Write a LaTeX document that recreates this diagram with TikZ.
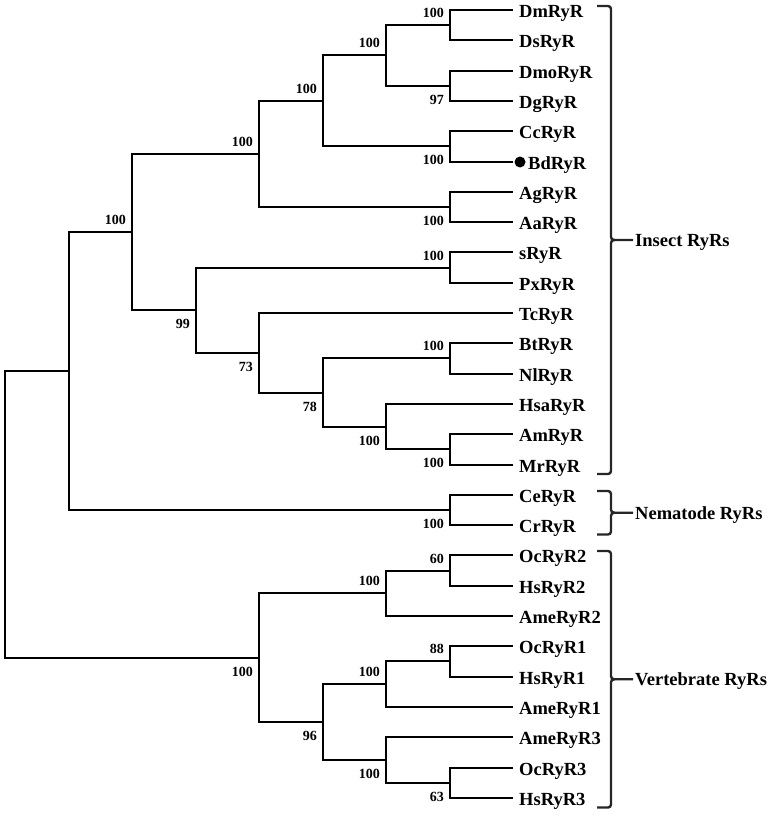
\documentclass[tikz,border=0pt]{standalone}
\usepackage{fontspec}
\setmainfont{Liberation Serif}
\usetikzlibrary{calc}
\newcommand\Y[1]{round(10+30.3*(#1))}
\begin{document}
\begin{tikzpicture}[x=1pt,y=-1pt,
  tree/.style={line width=2pt, black},
  brk/.style={line width=2.4pt, black!85, rounded corners=3pt},
  leaf/.style={anchor=west, inner xsep=6pt, inner ysep=0pt, text height=15pt, text depth=0pt,
    font=\bfseries\fontsize{18.5}{18.5}\selectfont},
  grp/.style={anchor=west, inner xsep=2pt, inner ysep=0pt, text height=13pt, text depth=0pt,
    font=\bfseries\fontsize{18.5}{18.5}\selectfont},
  boot/.style={anchor=east, inner sep=0pt, font=\bfseries\fontsize{14}{14}\selectfont},
  dotnode/.style={circle, fill=black, inner sep=0pt, minimum size=11pt}]
\useasboundingbox (0,0) rectangle (772,816);

% ---- leaves
\node[leaf] (Dm)   at (513,{\Y{0}})  {DmRyR};
\node[leaf] (Ds)   at (513,{\Y{1}})  {DsRyR};
\node[leaf] (Dmo)  at (513,{\Y{2}})  {DmoRyR};
\node[leaf] (Dg)   at (513,{\Y{3}})  {DgRyR};
\node[leaf] (Cc)   at (513,{\Y{4}})  {CcRyR};
\node[leaf] (Bd)   at (513,{\Y{5}})  {\hspace{9pt}BdRyR};
\node[dotnode] (bddot) at (520,{\Y{5}}) {};
\node[leaf] (Ag)   at (513,{\Y{6}})  {AgRyR};
\node[leaf] (Aa)   at (513,{\Y{7}})  {AaRyR};
\node[leaf] (sR)   at (513,{\Y{8}})  {sRyR};
\node[leaf] (Px)   at (513,{\Y{9}})  {PxRyR};
\node[leaf] (Tc)   at (513,{\Y{10}}) {TcRyR};
\node[leaf] (Bt)   at (513,{\Y{11}}) {BtRyR};
\node[leaf] (Nl)   at (513,{\Y{12}}) {NlRyR};
\node[leaf] (Hsa)  at (513,{\Y{13}}) {HsaRyR};
\node[leaf] (Am)   at (513,{\Y{14}}) {AmRyR};
\node[leaf] (Mr)   at (513,{\Y{15}}) {MrRyR};
\node[leaf] (Ce)   at (513,{\Y{16}}) {CeRyR};
\node[leaf] (Cr)   at (513,{\Y{17}}) {CrRyR};
\node[leaf] (Oc2)  at (513,{\Y{18}}) {OcRyR2};
\node[leaf] (Hs2)  at (513,{\Y{19}}) {HsRyR2};
\node[leaf] (Ame2) at (513,{\Y{20}}) {AmeRyR2};
\node[leaf] (Oc1)  at (513,{\Y{21}}) {OcRyR1};
\node[leaf] (Hs1)  at (513,{\Y{22}}) {HsRyR1};
\node[leaf] (Ame1) at (513,{\Y{23}}) {AmeRyR1};
\node[leaf] (Ame3) at (513,{\Y{24}}) {AmeRyR3};
\node[leaf] (Oc3)  at (513,{\Y{25}}) {OcRyR3};
\node[leaf] (Hs3)  at (513,{\Y{26}}) {HsRyR3};

% ---- internal nodes
\coordinate (n1)  at (450,{\Y{0.5}});
\coordinate (n2)  at (450,{\Y{2.5}});
\coordinate (n3)  at (386,{\Y{1.5}});
\coordinate (n4)  at (450,{\Y{4.5}});
\coordinate (n5)  at (323,{\Y{3}});
\coordinate (n6)  at (450,{\Y{6.5}});
\coordinate (n7)  at (259,{\Y{4.75}});
\coordinate (n8)  at (450,{\Y{8.5}});
\coordinate (n9)  at (450,{\Y{11.5}});
\coordinate (n10) at (450,{\Y{14.5}});
\coordinate (n11) at (386,{\Y{13.75}});
\coordinate (n12) at (323,{\Y{12.625}});
\coordinate (n13) at (259,{\Y{11.3125}});
\coordinate (n14) at (196,{\Y{9.90625}});
\coordinate (n15) at (132,{\Y{7.328125}});
\coordinate (n16) at (450,{\Y{16.5}});
\coordinate (n17) at (69,{\Y{11.9140625}});
\coordinate (n18) at (450,{\Y{18.5}});
\coordinate (n19) at (386,{\Y{19.25}});
\coordinate (n20) at (450,{\Y{21.5}});
\coordinate (n21) at (386,{\Y{22.25}});
\coordinate (n22) at (450,{\Y{25.5}});
\coordinate (n23) at (386,{\Y{24.75}});
\coordinate (n24) at (323,{\Y{23.5}});
\coordinate (n25) at (259,{\Y{21.375}});
\coordinate (root) at (5,{\Y{16.64453125}});

% ---- branches
\draw[tree] (n1) |- (Dm.west);  \draw[tree] (n1) |- (Ds.west);
\draw[tree] (n2) |- (Dmo.west); \draw[tree] (n2) |- (Dg.west);
\draw[tree] (n3) |- (n1);       \draw[tree] (n3) |- (n2);
\draw[tree] (n4) |- (Cc.west);  \draw[tree] (n4) |- (Bd.west);
\draw[tree] (n5) |- (n3);       \draw[tree] (n5) |- (n4);
\draw[tree] (n6) |- (Ag.west);  \draw[tree] (n6) |- (Aa.west);
\draw[tree] (n7) |- (n5);       \draw[tree] (n7) |- (n6);
\draw[tree] (n8) |- (sR.west);  \draw[tree] (n8) |- (Px.west);
\draw[tree] (n9) |- (Bt.west);  \draw[tree] (n9) |- (Nl.west);
\draw[tree] (n10) |- (Am.west); \draw[tree] (n10) |- (Mr.west);
\draw[tree] (n11) |- (Hsa.west); \draw[tree] (n11) |- (n10);
\draw[tree] (n12) |- (n9);      \draw[tree] (n12) |- (n11);
\draw[tree] (n13) |- (Tc.west); \draw[tree] (n13) |- (n12);
\draw[tree] (n14) |- (n8);      \draw[tree] (n14) |- (n13);
\draw[tree] (n15) |- (n7);      \draw[tree] (n15) |- (n14);
\draw[tree] (n16) |- (Ce.west); \draw[tree] (n16) |- (Cr.west);
\draw[tree] (n17) |- (n15);     \draw[tree] (n17) |- (n16);
\draw[tree] (n18) |- (Oc2.west); \draw[tree] (n18) |- (Hs2.west);
\draw[tree] (n19) |- (n18);     \draw[tree] (n19) |- (Ame2.west);
\draw[tree] (n20) |- (Oc1.west); \draw[tree] (n20) |- (Hs1.west);
\draw[tree] (n21) |- (n20);     \draw[tree] (n21) |- (Ame1.west);
\draw[tree] (n22) |- (Oc3.west); \draw[tree] (n22) |- (Hs3.west);
\draw[tree] (n23) |- (Ame3.west); \draw[tree] (n23) |- (n22);
\draw[tree] (n24) |- (n21);     \draw[tree] (n24) |- (n23);
\draw[tree] (n25) |- (n19);     \draw[tree] (n25) |- (n24);
\draw[tree] (root) |- (n17);    \draw[tree] (root) |- (n25);

% ---- bootstrap values
\node[boot] (b1)  at ($(n1)+(-6,-12.5)$)  {100};
\node[boot] (b2)  at ($(n2)+(-6,13.5)$)   {97};
\node[boot] (b3)  at ($(n3)+(-6,-12.5)$)  {100};
\node[boot] (b4)  at ($(n4)+(-6,13.5)$)   {100};
\node[boot] (b5)  at ($(n5)+(-6,-12.5)$)  {100};
\node[boot] (b6)  at ($(n6)+(-6,13.5)$)   {100};
\node[boot] (b7)  at ($(n7)+(-6,-12.5)$)  {100};
\node[boot] (b8)  at ($(n8)+(-6,-12.5)$)  {100};
\node[boot] (b9)  at ($(n9)+(-6,-12.5)$)  {100};
\node[boot] (b10) at ($(n10)+(-6,13.5)$)  {100};
\node[boot] (b11) at ($(n11)+(-6,13.5)$)  {100};
\node[boot] (b12) at ($(n12)+(-6,13.5)$)  {78};
\node[boot] (b13) at ($(n13)+(-6,13.5)$)  {73};
\node[boot] (b14) at ($(n14)+(-6,13.5)$)  {99};
\node[boot] (b15) at ($(n15)+(-6,-12.5)$) {100};
\node[boot] (b16) at ($(n16)+(-6,13.5)$)  {100};
\node[boot] (b18) at ($(n18)+(-6,-12.5)$) {60};
\node[boot] (b19) at ($(n19)+(-6,-12.5)$) {100};
\node[boot] (b20) at ($(n20)+(-6,-12.5)$) {88};
\node[boot] (b21) at ($(n21)+(-6,-12.5)$) {100};
\node[boot] (b22) at ($(n22)+(-6,13.5)$)  {63};
\node[boot] (b23) at ($(n23)+(-6,13.5)$)  {100};
\node[boot] (b24) at ($(n24)+(-6,13.5)$)  {96};
\node[boot] (b25) at ($(n25)+(-6,13.5)$)  {100};

% ---- group brackets
\node[grp] (gIns) at (633,240) {Insect RyRs};
\draw[brk] (597,6) -- (611,6) -- (611,240) -- (gIns.west);
\draw[brk] (597,474) -- (611,474) -- (611,240) -- (615,240);

\node[grp] (gNem) at (633,{(\Y{16}-4+\Y{17}+9.5)/2}) {Nematode RyRs};
\draw[brk] (597,{\Y{16}-4}) -- (611,{\Y{16}-4}) |- (gNem.west);
\draw[brk] (597,{\Y{17}+9.5}) -- (611,{\Y{17}+9.5}) |- ($(gNem.west)+(-18,0)$);

\node[grp] (gVer) at (633,{(\Y{18}-4+\Y{26}+9.5)/2}) {Vertebrate RyRs};
\draw[brk] (597,{\Y{18}-4}) -- (611,{\Y{18}-4}) |- (gVer.west);
\draw[brk] (597,{\Y{26}+9.5}) -- (611,{\Y{26}+9.5}) |- ($(gVer.west)+(-18,0)$);
\end{tikzpicture}
\end{document}
